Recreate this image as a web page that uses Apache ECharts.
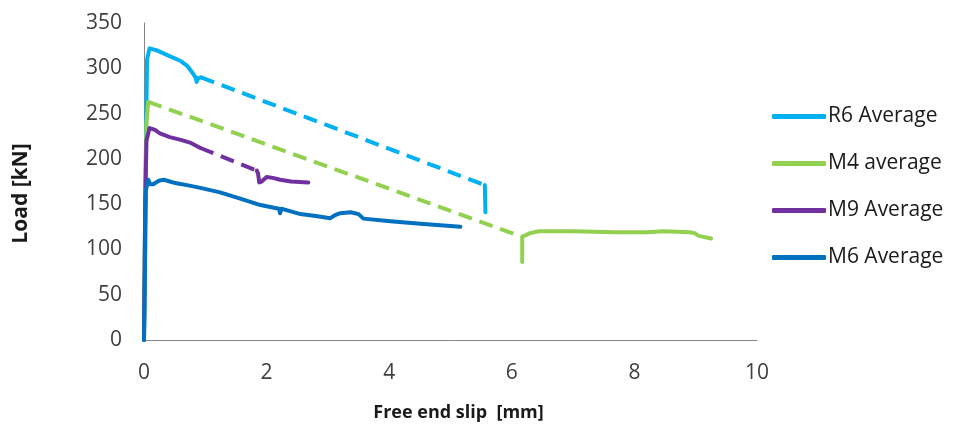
<!DOCTYPE html>
<html><head><meta charset="utf-8">
<script src="https://cdn.jsdelivr.net/npm/echarts@6/dist/echarts.min.js"></script>
<style>html,body{margin:0;padding:0;background:#fff}#c{width:954px;height:427px}</style>
</head><body><div id="c"></div>
<script>
const seriesNames = ['R6 Average','M4 average','M9 Average','M6 Average'];
const xTicks = [0,2,4,6,8,10];
const yTicks = [0,50,100,150,200,250,300,350];
// R6 Average
const r6Solid = [[0,0],[0.02,150],[0.04,260],[0.05,310],[0.09,322],[0.2,320],[0.4,314],[0.6,308],[0.7,303],[0.78,296],[0.84,290],[0.86,285],[0.88,289],[0.93,290]];
const r6Dashed = [[0.93,290],[5.56,171]];
const r6Tail = [[5.56,171],[5.57,141]];
// M4 average
const m4Rise = [[0,0],[0.02,150],[0.04,240],[0.07,263]];
const m4Dashed = [[0.07,263],[6.17,114]];
const m4Solid = [[6.17,86],[6.17,114],[6.3,118],[6.44,120],[7.0,120],[7.67,119],[8.2,119],[8.48,120],[8.9,119],[8.98,118],[9.05,115],[9.25,112]];
// M9 Average
const m9Solid = [[0,0],[0.02,150],[0.04,220],[0.09,234],[0.18,232],[0.26,228],[0.42,224],[0.6,221],[0.75,218],[0.92,212]];
const m9Dashed = [[0.92,212],[1.84,187]];
const m9Tail = [[1.84,187],[1.86,184],[1.88,174],[1.92,175],[2.0,180],[2.1,179],[2.22,177],[2.4,175],[2.68,174]];
// M6 Average
const m6 = [[0,0],[0.02,100],[0.03,165],[0.07,177],[0.1,172],[0.15,172],[0.25,176],[0.32,177],[0.42,175],[0.53,173],[0.7,171],[0.92,168],[1.24,163],[1.57,156],[1.9,149],[2.2,145],[2.22,140],[2.24,145],[2.55,139],[2.8,137],[3.04,134.5],[3.12,138],[3.2,140],[3.37,141],[3.5,139],[3.58,134],[4.02,131],[4.56,128],[5.16,125]];

const colors = ['#00B0F0','#92D050','#7030A0','#0070C0'];
function ser(name, data, color, dashed){
  return {name: name, type:'line', data: data, showSymbol:false, symbol:'none', silent:true,
    lineStyle:{color: color, width:4, type: dashed ? [14,8] : 'solid', cap: dashed ? 'butt':'round', join:'round'},
    itemStyle:{color: color}, z: 2};
}
const chart = echarts.init(document.getElementById('c'), null, {renderer:'canvas'});
chart.setOption({
  animation:false,
  backgroundColor:'#fff',
  grid:{left:144, right:197, top:23, bottom:85, containLabel:false},
  legend:{orient:'vertical', left:767, top:101, itemWidth:54, itemHeight:5, itemGap:26, icon:'roundRect',
    data: seriesNames,
    textStyle:{fontFamily:'Open Sans', fontSize:21, color:'#1a1a1a', padding:[0,0,0,-3]}},
  xAxis:{type:'value', min:xTicks[0], max:xTicks[xTicks.length-1], interval:2,
    name:'Free end slip  [mm]', nameLocation:'middle', nameGap:64,
    nameTextStyle:{fontFamily:'Open Sans', fontWeight:'bold', fontSize:18, color:'#1a1a1a', padding:[0,0,0,16]},
    axisLine:{show:true, lineStyle:{color:'#868686', width:1}}, axisTick:{show:false},
    splitLine:{show:false},
    axisLabel:{fontFamily:'Open Sans', fontSize:21, color:'#404040', margin:23}},
  yAxis:{type:'value', min:yTicks[0], max:yTicks[yTicks.length-1], interval:50,
    name:'Load [kN]', nameLocation:'middle', nameGap:112, nameRotate:90,
    nameTextStyle:{fontFamily:'Open Sans', fontWeight:'bold', fontSize:21, color:'#1a1a1a', padding:[0,24,0,0]},
    axisLine:{show:true, lineStyle:{color:'#868686', width:1}}, axisTick:{show:false},
    splitLine:{show:false},
    axisLabel:{fontFamily:'Open Sans', fontSize:21, color:'#404040', margin:22}},
  series:[
    ser(seriesNames[0], r6Solid, colors[0], false),
    ser(seriesNames[0]+' dashed', r6Dashed, colors[0], true),
    ser(seriesNames[0]+' tail', r6Tail, colors[0], false),
    ser(seriesNames[1], m4Rise, colors[1], false),
    ser(seriesNames[1]+' dashed', m4Dashed, colors[1], true),
    ser(seriesNames[1]+' tail', m4Solid, colors[1], false),
    ser(seriesNames[2], m9Solid, colors[2], false),
    ser(seriesNames[2]+' dashed', m9Dashed, colors[2], true),
    ser(seriesNames[2]+' tail', m9Tail, colors[2], false),
    ser(seriesNames[3], m6, colors[3], false)
  ]
});
</script></body></html>
